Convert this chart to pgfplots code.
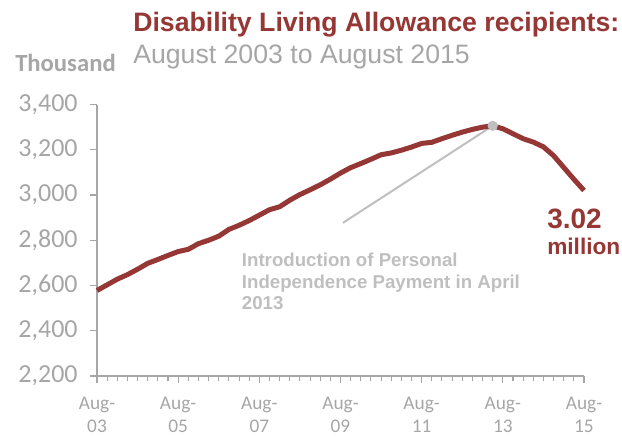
\documentclass[border=0pt]{standalone}
\usepackage{pgfplots}
\pgfplotsset{compat=1.18}
\usepackage{fontspec}
\setmainfont{Liberation Sans}
\newfontfamily\calibri{Carlito}
\definecolor{dred}{HTML}{953735}
\definecolor{tgray}{HTML}{A6A6A6}
\definecolor{lgray}{HTML}{BFBFBF}
\definecolor{agray}{HTML}{A6A6A6}
\pgfplotstableread{
k v
0 2578
1 2603
2 2628
3 2648
4 2672
5 2698
6 2715
7 2733
8 2750
9 2760
10 2785
11 2800
12 2818
13 2848
14 2866
15 2887
16 2911
17 2935
18 2948
19 2977
20 3002
21 3023
22 3045
23 3070
24 3097
25 3121
26 3139
27 3158
28 3178
29 3186
30 3198
31 3212
32 3228
33 3233
34 3249
35 3264
36 3278
37 3290
38 3300
39 3306
40 3293
41 3271
42 3249
43 3234
44 3213
45 3174
46 3122
47 3070
48 3020
}\dla
\begin{document}
\begin{tikzpicture}
\path[use as bounding box] (-72.75pt,-46.5pt) rectangle (393.75pt,282pt);
\begin{axis}[
  at={(0pt,0pt)}, anchor=origin,
  scale only axis, width=365.25pt, height=203.6pt,
  xmin=0, xmax=48, ymin=2200, ymax=3400,
  axis lines*=left,
  axis line style={agray, line width=0.9pt, -},
  every tick/.style={agray, line width=0.8pt},
  tick align=outside,
  xtick={0,8,...,48},
  xticklabels={Aug-\\03,Aug-\\05,Aug-\\07,Aug-\\09,Aug-\\11,Aug-\\13,Aug-\\15},
  minor x tick num=7,
  major tick length=5pt,
  minor tick length=4pt,
  xticklabel style={font=\calibri\fontsize{14.5pt}{17pt}\selectfont, text=tgray, align=center, inner sep=0pt, yshift=-11pt},
  ytick={2200,2400,...,3400},
  yticklabels={{2,200},{2,400},{2,600},{2,800},{3,000},{3,200},{3,400}},
  yticklabel style={font=\calibri\fontsize{19.5pt}{22pt}\selectfont, text=tgray, xshift=-6pt},
  /pgf/number format/assume math mode=true,
  clip=false,
]
\draw[lgray, line width=1.5pt] (axis cs:24.24,2877) -- (axis cs:39,3306);
\addplot[dred, line width=3.75pt, line join=round, no markers] table[x=k,y=v]{\dla};
\addplot[only marks, mark=*, mark size=3.6pt, mark options={fill=lgray, draw=lgray}] coordinates {(39,3306)};
\end{axis}
\node[anchor=base west, inner sep=0pt, text=dred, font=\bfseries\fontsize{20pt}{24pt}\selectfont] at (27pt,258pt) {Disability Living Allowance recipients:};
\node[anchor=base west, inner sep=0pt, text=tgray, font=\fontsize{20pt}{24pt}\selectfont] at (27pt,234pt) {August 2003 to August 2015};
\node[anchor=base west, inner sep=0pt, text=tgray, font=\calibri\bfseries\fontsize{18.5pt}{22pt}\selectfont] at (-61.5pt,228.2pt) {Thousand};
\node[anchor=base west, inner sep=0pt, text=lgray, font=\bfseries\fontsize{14pt}{16.25pt}\selectfont, align=left] at (108.5pt,49.5pt) {Introduction of Personal\\Independence Payment in April\\2013};
\node[anchor=base west, inner sep=0pt, text=dred, font=\bfseries\fontsize{21pt}{24pt}\selectfont] at (337.5pt,110.5pt) {3.02};
\node[anchor=base west, inner sep=0pt, text=dred, font=\bfseries\fontsize{17pt}{20pt}\selectfont] at (337.5pt,90.75pt) {million};
\end{tikzpicture}
\end{document}
